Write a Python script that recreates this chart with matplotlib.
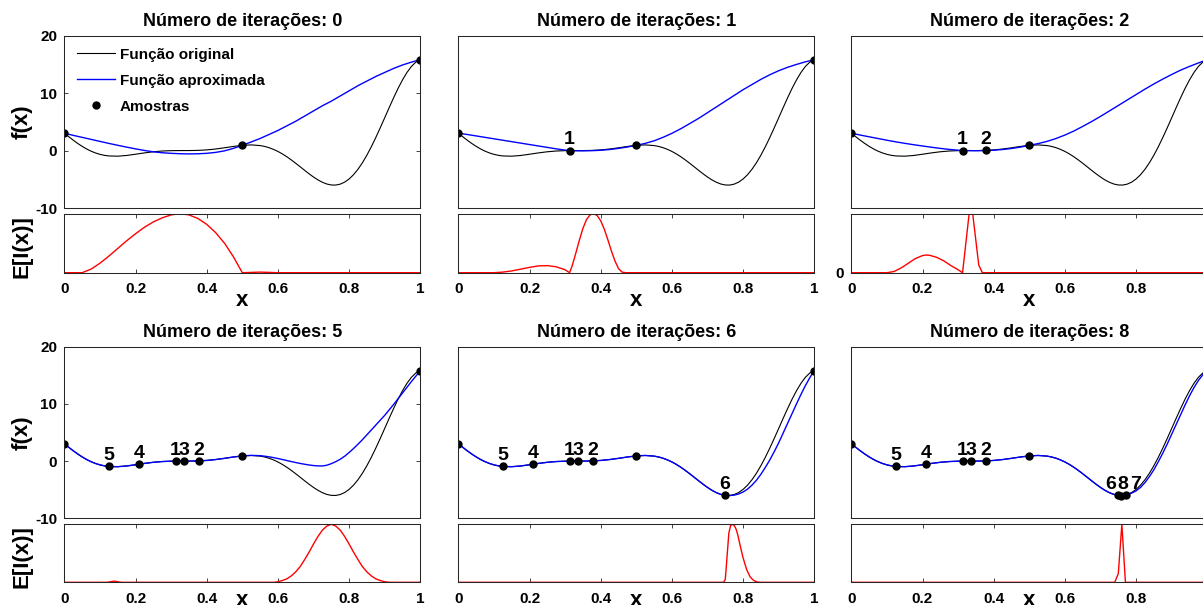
import matplotlib
matplotlib.use("Agg")
import matplotlib.pyplot as plt
from matplotlib.lines import Line2D

plt.rcParams['font.family'] = ['Liberation Sans', 'DejaVu Sans']
plt.rcParams['font.weight'] = 'bold'

# ---------------- data ----------------
# coarse grid (gentle curves)
x_grid = [0.0, 0.025, 0.05, 0.075, 0.1, 0.125, 0.15, 0.175, 0.2, 0.225, 0.25,
          0.275, 0.3, 0.325, 0.35, 0.375, 0.4, 0.425, 0.45, 0.475, 0.5,
          0.525, 0.55, 0.575, 0.6, 0.625, 0.65, 0.675, 0.7, 0.725, 0.75,
          0.775, 0.8, 0.825, 0.85, 0.875, 0.9, 0.925, 0.95, 0.975, 1.0]
# finer grid where the curves bend strongly
x_fine = [0.0, 0.0125, 0.025, 0.0375, 0.05, 0.0625, 0.075, 0.0875, 0.1, 0.1125, 0.125,
          0.15, 0.175, 0.2, 0.225, 0.25,
          0.275, 0.3, 0.325, 0.35, 0.375, 0.4, 0.425, 0.45, 0.475, 0.5,
          0.525, 0.55, 0.5625, 0.575, 0.5875, 0.6, 0.6125, 0.625, 0.6375, 0.65,
          0.6625, 0.675, 0.6875, 0.7, 0.7125, 0.725, 0.7375, 0.75, 0.7625, 0.775,
          0.7875, 0.8, 0.8125, 0.825, 0.8375, 0.85, 0.8625, 0.875, 0.8875, 0.9,
          0.9125, 0.925, 0.9375, 0.95, 0.9625, 0.975, 0.9875, 1.0]

original = [3.027, 2.411, 1.813, 1.251, 0.738, 0.286, -0.100, -0.414, -0.657, -0.829, -0.935,
            -0.978, -0.854, -0.640, -0.407, -0.210,
            -0.079, -0.016, -0.000, 0.002, 0.030, 0.115, 0.270, 0.483, 0.717, 0.909,
            0.986, 0.871, 0.722, 0.503, 0.213, -0.150, -0.580, -1.074, -1.621, -2.209,
            -2.821, -3.439, -4.041, -4.606, -5.107, -5.522, -5.825, -5.993, -6.006, -5.845,
            -5.495, -4.949, -4.201, -3.253, -2.115, -0.799, 0.673, 2.272, 3.966, 5.712,
            7.470, 9.187, 10.819, 12.303, 13.595, 14.648, 15.405, 15.830]

# approximations on x_grid
approx_0 = [3.03, 2.65, 2.30, 1.95, 1.60, 1.25, 0.92, 0.60, 0.30, 0.02, -0.22,
            -0.38, -0.48, -0.55, -0.58, -0.56, -0.48, -0.32, -0.05, 0.38, 0.91,
            1.50, 2.10, 2.80, 3.50, 4.30, 5.10, 6.00, 6.90, 7.80, 8.60,
            9.50, 10.40, 11.30, 12.10, 12.90, 13.60, 14.30, 14.90, 15.40, 15.83]
approx_1 = [3.03, 2.80, 2.55, 2.30, 2.05, 1.80, 1.55, 1.30, 1.05, 0.80, 0.55,
            0.30, 0.08, -0.03, -0.05, -0.02, 0.05, 0.18, 0.38, 0.62, 0.91,
            1.25, 1.70, 2.30, 3.00, 3.80, 4.70, 5.60, 6.60, 7.60, 8.60,
            9.60, 10.60, 11.50, 12.40, 13.20, 13.90, 14.50, 15.00, 15.45, 15.83]
approx_2 = [3.03, 2.70, 2.40, 2.10, 1.80, 1.52, 1.26, 1.02, 0.80, 0.58, 0.38,
            0.20, 0.06, -0.01, -0.03, -0.01, 0.06, 0.18, 0.36, 0.60, 0.91,
            1.22, 1.60, 2.10, 2.70, 3.40, 4.20, 5.05, 5.95, 6.90, 7.85,
            8.80, 9.75, 10.70, 11.60, 12.45, 13.25, 14.00, 14.65, 15.25, 15.83]
# approximations on x_fine (they follow the original where it is well sampled)
approx_5 = original[:26] + [1.00, 0.95,
                            0.86, 0.75, 0.61, 0.45, 0.28, 0.10, -0.08, -0.25, -0.41, -0.55,
                            -0.68, -0.78, -0.84, -0.85, -0.72, -0.45, -0.10, 0.32, 0.85, 1.50,
                            2.20, 2.95, 3.75, 4.60, 5.45, 6.30, 7.15, 8.00, 8.95, 9.90,
                            10.90, 11.90, 12.90, 13.90, 14.85, 15.83]
approx_6 = original[:44] + [-6.02, -5.95, -5.75, -5.40, -4.90, -4.20, -3.35, -2.30, -1.10, 0.20,
                            1.65, 3.20, 4.90, 6.60, 8.30, 10.00, 11.65, 13.20, 14.60, 15.83]
approx_8 = original[:46] + [-5.60, -5.20, -4.60, -3.75, -2.70, -1.50, -0.10, 1.40, 3.00,
                            4.70, 6.40, 8.10, 9.80, 11.40, 12.85, 14.10, 15.10, 15.83]

# Expected improvement (relative to each panel's maximum)
ei_x_0 = [0, 0.05, 0.075, 0.1, 0.125, 0.15, 0.175, 0.2, 0.225, 0.25, 0.275, 0.3, 0.325,
          0.35, 0.375, 0.4, 0.425, 0.45, 0.475, 0.5, 0.55, 0.6, 1.0]
ei_y_0 = [0, 0, 0.06, 0.16, 0.28, 0.41, 0.54, 0.66, 0.77, 0.86, 0.93, 0.98, 1.0,
          0.98, 0.92, 0.82, 0.68, 0.50, 0.27, 0.0, 0.01, 0, 0]
ei_x_1 = [0, 0.1, 0.125, 0.15, 0.175, 0.2, 0.225, 0.25, 0.275, 0.3, 0.3125,
          0.32, 0.33, 0.34, 0.35, 0.36, 0.37, 0.38, 0.39, 0.40, 0.41, 0.42, 0.43,
          0.44, 0.45, 0.46, 0.47, 1.0]
ei_y_1 = [0, 0, 0.01, 0.03, 0.06, 0.09, 0.115, 0.12, 0.10, 0.05, 0,
          0.12, 0.33, 0.55, 0.75, 0.90, 0.98, 1.0, 0.97, 0.88, 0.74, 0.56, 0.37,
          0.20, 0.07, 0.01, 0, 0]
ei_x_2 = [0, 0.1, 0.12, 0.14, 0.16, 0.18, 0.2, 0.21, 0.22, 0.24, 0.26, 0.28, 0.3, 0.3125,
          0.331, 0.341, 0.358, 0.368, 1.0]
ei_y_2 = [0, 0, 0.02, 0.08, 0.16, 0.24, 0.29, 0.30, 0.295, 0.26, 0.20, 0.12, 0.05, 0,
          1.0, 1.0, 0.13, 0, 0]
ei_x_5 = [0, 0.12, 0.14, 0.16, 0.59, 0.6, 0.6125, 0.625, 0.6375, 0.65, 0.6625, 0.675, 0.6875,
          0.7, 0.7125, 0.725, 0.7375, 0.75, 0.7625, 0.775, 0.7875, 0.8, 0.8125, 0.825,
          0.8375, 0.85, 0.8625, 0.875, 0.8875, 0.9, 0.9125, 1.0]
ei_y_5 = [0, 0, 0.02, 0, 0, 0.01, 0.03, 0.06, 0.11, 0.18, 0.27, 0.39, 0.52,
          0.66, 0.79, 0.90, 0.97, 1.0, 0.97, 0.90, 0.79, 0.66, 0.52, 0.39,
          0.27, 0.18, 0.11, 0.06, 0.03, 0.01, 0, 0]
ei_x_6 = [0, 0.745, 0.75, 0.755, 0.76, 0.765, 0.77, 0.775, 0.78, 0.785, 0.79, 0.795, 0.8,
          0.81, 0.82, 0.83, 0.84, 0.85, 1.0]
ei_y_6 = [0, 0, 0.05, 0.45, 0.85, 0.98, 1.0, 0.98, 0.92, 0.82, 0.68, 0.55, 0.42,
          0.22, 0.09, 0.03, 0.005, 0, 0]
ei_x_8 = [0, 0.74, 0.75, 0.76, 0.77, 1.0]
ei_y_8 = [0, 0, 0.15, 1.0, 0, 0]

init_x = [0.0, 0.5, 1.0]
init_y = [3.027, 0.909, 15.830]
sample_x = [0.3125, 0.378, 0.335, 0.2105, 0.126, 0.749, 0.7706, 0.7576]
sample_y = [-0.004, 0.037, 0.000, -0.541, -0.941, -5.989, -5.925, -6.019]
sample_labels = ['1', '2', '3', '4', '5', '6', '7', '8']

iterations = [0, 1, 2, 5, 6, 8]
approx_x = [x_grid, x_grid, x_grid, x_fine, x_fine, x_fine]
approximations = [approx_0, approx_1, approx_2, approx_5, approx_6, approx_8]
ei_xs = [ei_x_0, ei_x_1, ei_x_2, ei_x_5, ei_x_6, ei_x_8]
ei_ys = [ei_y_0, ei_y_1, ei_y_2, ei_y_5, ei_y_6, ei_y_8]

xtick_vals = [0, 0.2, 0.4, 0.6, 0.8, 1]
xtick_labels = ['0', '0.2', '0.4', '0.6', '0.8', '1']
ytick_vals = [-10, 0, 10, 20]
ytick_labels = ['-10', '0', '10', '20']

title_text = 'Número de iterações: {}'
legend_labels = ['Função original', 'Função aproximada', 'Amostras']

# ---------------- layout (pixels) ----------------
W, H = 1203, 605
col_left = [64.3, 458.3, 851.3]
ax_w = 356.0
rows = [  # (top_top, top_bottom, low_top, low_bottom, xlabel_y)
    (35.7, 208.0, 213.7, 272.7, 300.0),
    (346.7, 518.3, 524.3, 582.3, 600.0),
]
# label x offsets (points) used only to keep crowded labels apart
label_dx = {(8, '6'): -5.5, (8, '8'): 1.5, (8, '7'): 7.5}

fig = plt.figure(figsize=(W / 100, H / 100), dpi=100)
edge = '#262626'


def rect(left, top, bottom):
    return [left / W, 1 - bottom / H, ax_w / W, (bottom - top) / H]


def style(ax):
    for s in ax.spines.values():
        s.set_color(edge)
        s.set_linewidth(0.75)
    ax.tick_params(direction='in', length=3, width=0.6, color=edge,
                   top=True, right=True, labelsize=11, pad=7)


for k, it in enumerate(iterations):
    r, c = divmod(k, 3)
    tt, tb, lt, lb, xly = rows[r]
    left = col_left[c]

    ax = fig.add_axes(rect(left, tt, tb))
    style(ax)
    ax.plot(x_fine, original, color='black', lw=0.8)
    ax.plot(approx_x[k], approximations[k], color='#0000ff', lw=1.0)
    ax.plot(init_x, init_y, 'o', color='black', ms=5)
    n = it
    ax.plot(sample_x[:n], sample_y[:n], 'o', color='black', ms=5)
    for i in range(n):
        lab = sample_labels[i]
        dx = label_dx.get((it, lab), 0)
        ax.annotate(lab, (sample_x[i], sample_y[i]), xytext=(dx, 4.5),
                    textcoords='offset points', ha='center', va='baseline',
                    fontsize=14, fontweight='bold')
    ax.set_xlim(0, 1)
    ax.set_ylim(-10, 20)
    ax.set_xticks([])
    if c == 0:
        ax.set_yticks(ytick_vals)
        ax.set_yticklabels(ytick_labels, fontweight='bold')
        ax.tick_params(axis='y', pad=5)
    else:
        ax.set_yticks([])
    ax.set_title(title_text.format(it), fontsize=13, fontweight='bold', pad=7)

    if k == 0:
        handles = [Line2D([], [], color='black', lw=0.8),
                   Line2D([], [], color='#0000ff', lw=1.0),
                   Line2D([], [], marker='o', ls='none', color='black', ms=5)]
        ax.legend(handles, legend_labels, loc='upper left', bbox_to_anchor=(0.035, 0.93),
                  frameon=False, handlelength=2.5, handletextpad=0.3,
                  labelspacing=0.78, borderaxespad=0, borderpad=0,
                  prop={'weight': 'bold', 'size': 11})

    axe = fig.add_axes(rect(left, lt, lb))
    style(axe)
    axe.plot(ei_xs[k], ei_ys[k], color='#ff0000', lw=1.0)
    axe.set_xlim(0, 1)
    axe.set_ylim(0, 1)
    axe.set_xticks(xtick_vals)
    axe.set_xticklabels(xtick_labels, fontweight='bold')
    if k == 2:
        axe.set_yticks([0])
        axe.set_yticklabels(['0'], fontweight='bold')
        axe.tick_params(axis='y', pad=5, length=0)
    else:
        axe.set_yticks([])

    fig.text((left + 0.5 * ax_w) / W, 1 - xly / H, 'x', ha='center', va='center',
             fontsize=16, fontweight='bold')
    if c == 0:
        fig.text(22 / W, 1 - (tt + tb) / 2 / H, 'f(x)', rotation=90, ha='center',
                 va='center', fontsize=16, fontweight='bold')
        fig.text(22 / W, 1 - ((lt + lb) / 2 + 3) / H, 'E[I(x)]', rotation=90, ha='center',
                 va='center', fontsize=16, fontweight='bold')

fig.savefig('out.png', dpi=100)
